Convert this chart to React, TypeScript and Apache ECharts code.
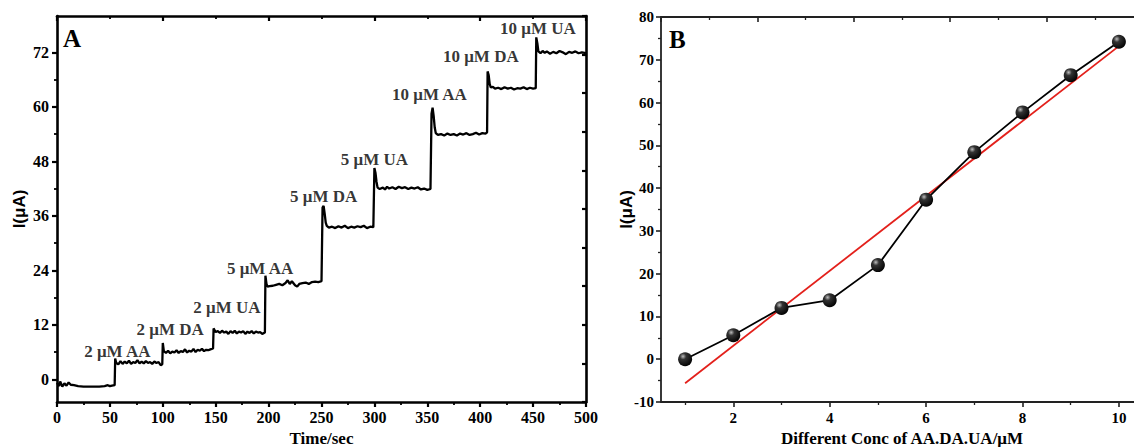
import React, { useEffect, useRef } from "react";
import * as echarts from "echarts";

// Panel A: amperometric trace (time in s, current in µA)
const traceTime = [
  0, 2, 3, 5, 7, 9, 11, 13, 16, 20, 25, 30, 35, 40, 45, 48, 50, 52, 54.5,
  55, 56, 58, 60, 62, 64, 66, 68, 70, 72, 74, 76, 78, 80, 82, 84, 86, 88, 90, 92, 94, 96, 98, 99.5,
  100, 101, 103, 105, 107, 109, 111, 113, 115, 117, 119, 121, 123, 125, 127, 129, 131, 133, 135, 137, 139, 141, 143, 145, 147.5,
  148, 149, 150, 152, 154, 156, 158, 160, 162, 164, 166, 168, 170, 172, 174, 176, 178, 180, 182, 184, 186, 188, 190, 192, 194, 196.5,
  197, 198, 199, 201, 204, 207, 210, 213, 216, 218, 220, 222, 225, 227, 229, 232, 235, 238, 241, 244, 247, 250,
  251, 252, 253, 254, 255, 257, 260, 263, 266, 269, 272, 275, 278, 281, 284, 287, 290, 293, 296, 299,
  300, 301, 302, 303, 305, 308, 310, 312, 314, 317, 320, 323, 326, 329, 332, 335, 338, 341, 344, 347, 350, 353,
  354, 355, 356, 357, 358, 360, 363, 366, 369, 372, 375, 378, 381, 384, 387, 390, 393, 396, 399, 402, 405, 406.5,
  407, 408, 409, 410, 412, 414, 417, 420, 423, 426, 429, 432, 435, 438, 441, 444, 447, 450, 452.5,
  453, 454, 455, 457, 459, 461, 463, 466, 469, 472, 475, 478, 481, 484, 487, 490, 493, 496, 500,
];
const traceCurrent = [
  -0.8, -1.5, -0.5, -1.6, -0.9, -1.4, -0.7, -1.2, -1.3, -1.5, -1.6, -1.6, -1.6, -1.6, -1.5, -1.3, -1.5, -1.4, -1.3,
  4.6, 3.6, 3.3, 4.0, 3.4, 3.9, 3.5, 4.1, 3.4, 3.8, 3.6, 4.2, 3.5, 3.9, 3.5, 4.0, 3.6, 3.8, 3.4, 3.9, 3.6, 3.8, 3.1, 3.3,
  8.0, 6.2, 5.8, 6.3, 5.7, 6.1, 5.9, 6.4, 5.8, 6.2, 6.0, 6.6, 5.9, 6.3, 6.1, 6.7, 6.0, 6.5, 6.3, 6.7, 6.2, 6.5, 6.4, 6.6, 6.8,
  11.2, 10.8, 10.4, 10.6, 10.2, 10.7, 10.3, 10.5, 10.0, 10.6, 10.2, 10.7, 10.1, 10.5, 10.3, 10.6, 10.0, 10.5, 10.2, 10.6, 10.1, 10.5, 10.3, 10.4, 10.0, 10.3,
  22.8, 21.0, 20.4, 20.5, 20.6, 20.8, 21.0, 20.7, 21.2, 21.8, 21.0, 21.6, 20.7, 20.4, 21.0, 21.2, 21.3, 21.0, 21.4, 21.5, 21.4, 21.6,
  37.8, 38.2, 36.5, 34.5, 33.8, 33.4, 33.6, 33.3, 33.7, 33.4, 33.8, 33.3, 33.6, 33.4, 33.7, 33.5, 33.8, 33.3, 33.6, 33.5,
  46.5, 45.5, 43.5, 42.2, 41.9, 42.2, 41.8, 42.4, 42.0, 42.3, 41.9, 42.4, 42.1, 42.3, 41.9, 42.2, 42.0, 42.3, 41.8, 42.0, 41.7, 41.9,
  58.5, 59.8, 58.0, 55.5, 54.2, 53.8, 54.0, 53.7, 54.1, 53.8, 54.0, 53.7, 54.1, 53.9, 54.2, 53.8, 54.0, 54.3, 53.9, 54.2, 54.1, 54.4,
  67.8, 67.0, 65.0, 64.3, 64.4, 64.0, 64.2, 63.9, 64.3, 64.0, 64.2, 63.8, 64.1, 64.0, 64.3, 63.9, 64.2, 64.0, 64.1,
  75.3, 74.0, 72.2, 71.8, 72.3, 71.9, 72.2, 71.7, 72.1, 71.8, 72.3, 72.0, 71.6, 72.1, 71.9, 72.2, 71.8, 72.0, 71.8,
];

const annLabels = ["2 μM AA", "2 μM DA", "2 μM UA", "5 μM AA", "5 μM DA", "5 μM UA", "10 μM AA", "10 μM DA", "10 μM UA"];
const annX = [57, 107, 160.6, 192, 252, 300, 352, 400.6, 454.6];
const annY = [6.2, 11, 15.9, 24.5, 40.2, 48.3, 62.7, 71, 77.3];

const aYLabels = [0, 12, 24, 36, 48, 60, 72];
const aYMinor = [6, 18, 30, 42, 54, 66];

// Panel B: calibration
const concX = [1, 2, 3, 4, 5, 6, 7, 8, 9, 10];
const currentB = [0, 5.6, 12, 13.8, 22, 37.3, 48.4, 57.7, 66.4, 74.2];
const fitX = [1, 10];
const fitY = [-5.6, 73.2];
const bXLabels = [2, 4, 6, 8, 10];
const bXMinor = [1, 3, 5, 7, 9];

const SERIF = "'Liberation Serif', 'Times New Roman', serif";
const SANS = "'Liberation Sans', Arial, sans-serif";

export default function App() {
  const ref = useRef<HTMLDivElement>(null);
  useEffect(() => {
    if (!ref.current) return;
    const chart = echarts.init(ref.current, null, { renderer: "svg" });
    const tickLabel = { fontFamily: SERIF, fontWeight: "bold", fontSize: 16, color: "#000" };
    const tickLabelB = { fontFamily: SERIF, fontWeight: "bold", fontSize: 15, color: "#000" };
    const lineA = { onZero: false, lineStyle: { color: "#000", width: 2.6 } };
    const lineB = { onZero: false, lineStyle: { color: "#222", width: 1.8 } };
    const noLine = { show: false, onZero: false };
    const sphere = {
      type: "radial",
      x: 0.35,
      y: 0.3,
      r: 0.75,
      colorStops: [
        { offset: 0, color: "#bdbdbd" },
        { offset: 0.3, color: "#333" },
        { offset: 1, color: "#000" },
      ],
    };
    const gridA = { left: 57, top: 16, width: 529, height: 386, containLabel: false, outerBoundsMode: "none" };
    const gridB = { left: 661, top: 17, width: 482, height: 385, containLabel: false, outerBoundsMode: "none" };
    chart.setOption({
      animation: false,
      backgroundColor: "#fff",
      grid: [gridA, gridB],
      xAxis: [
        {
          gridIndex: 0, type: "value", min: 0, max: 500, interval: 50, position: "bottom",
          axisLine: { show: true, ...lineA }, splitLine: { show: false },
          axisTick: { show: true, length: 5, lineStyle: { width: 2.2 } },
          minorTick: { show: true, splitNumber: 2, length: 3, lineStyle: { color: "#000", width: 1.8 } },
          axisLabel: { ...tickLabel, margin: 7 },
          name: "Time/sec", nameLocation: "middle", nameGap: 27,
          nameTextStyle: { fontFamily: SERIF, fontWeight: "bold", fontSize: 17, color: "#000" },
        },
        {
          gridIndex: 0, type: "value", min: 0, max: 500, interval: 100, position: "top",
          axisLine: { show: true, ...lineA }, splitLine: { show: false },
          axisTick: { show: true, inside: true, length: 5, lineStyle: { width: 2.2 } },
          minorTick: { show: true, splitNumber: 2, length: 3, lineStyle: { color: "#000", width: 1.8 } },
          axisLabel: { show: false },
        },
        {
          gridIndex: 1, type: "value", min: 0.5, max: 10.5, position: "bottom",
          axisLine: { show: true, ...lineB }, splitLine: { show: false },
          axisTick: { show: true, length: 5, customValues: bXLabels, lineStyle: { width: 1.6 } },
          axisLabel: { ...tickLabelB, margin: 8, customValues: bXLabels },
          name: "Different Conc of AA.DA.UA/μM", nameLocation: "middle", nameGap: 27,
          nameTextStyle: { fontFamily: SERIF, fontWeight: "bold", fontSize: 17, color: "#000" },
        },
        {
          gridIndex: 1, type: "value", min: 0.5, max: 10.5, position: "bottom",
          axisLine: noLine, splitLine: { show: false },
          axisTick: { show: true, length: 3, customValues: bXMinor, lineStyle: { color: "#222", width: 1.3 } },
          axisLabel: { show: false },
        },
        {
          gridIndex: 1, type: "value", min: 0, max: 10, interval: 2, position: "top",
          axisLine: { show: true, ...lineB }, splitLine: { show: false },
          axisTick: { show: true, inside: true, length: 5, lineStyle: { width: 1.6 } },
          minorTick: { show: true, splitNumber: 2, length: 3, lineStyle: { color: "#222", width: 1.3 } },
          axisLabel: { show: false },
        },
      ],
      yAxis: [
        {
          gridIndex: 0, type: "value", min: -5, max: 80, position: "left",
          axisLine: { show: true, ...lineA }, splitLine: { show: false },
          axisTick: { show: true, length: 5, customValues: aYLabels, lineStyle: { width: 2.2 } },
          axisLabel: { ...tickLabel, margin: 8, customValues: aYLabels },
          name: "I(μA)", nameLocation: "middle", nameGap: 29, nameMoveOverlap: false,
          nameTextStyle: { fontFamily: SANS, fontWeight: "bold", fontSize: 17, color: "#000" },
        },
        {
          gridIndex: 0, type: "value", min: -5, max: 80, position: "left",
          axisLine: noLine, splitLine: { show: false },
          axisTick: { show: true, length: 3, customValues: aYMinor, lineStyle: { color: "#000", width: 1.8 } },
          axisLabel: { show: false },
        },
        {
          gridIndex: 0, type: "value", min: 0, max: 10, interval: 1, position: "right",
          axisLine: { show: true, ...lineA }, splitLine: { show: false },
          axisTick: { show: true, inside: true, length: 4, lineStyle: { width: 2.2 } },
          axisLabel: { show: false },
        },
        {
          gridIndex: 1, type: "value", min: -10, max: 80, interval: 10, position: "left",
          axisLine: { show: true, ...lineB }, splitLine: { show: false },
          axisTick: { show: true, length: 5, lineStyle: { width: 1.6 } },
          minorTick: { show: true, splitNumber: 2, length: 3, lineStyle: { color: "#222", width: 1.3 } },
          axisLabel: { ...tickLabelB, margin: 7 },
          name: "I(μA)", nameLocation: "middle", nameGap: 26, nameMoveOverlap: false,
          nameTextStyle: { fontFamily: SANS, fontWeight: "bold", fontSize: 17, color: "#000" },
        },
      ],
      graphic: [
        { type: "text", left: 63, top: 26, style: { text: "A", fontFamily: SERIF, fontWeight: "bold", fontSize: 25, fill: "#000" } },
        { type: "text", left: 669, top: 27, style: { text: "B", fontFamily: SERIF, fontWeight: "bold", fontSize: 25, fill: "#000" } },
      ],
      series: [
        {
          type: "line", xAxisIndex: 0, yAxisIndex: 0, showSymbol: false,
          data: traceTime.map((t, i) => [t, traceCurrent[i]]),
          lineStyle: { color: "#000", width: 2.3 },
        },
        {
          type: "scatter", xAxisIndex: 0, yAxisIndex: 0, symbolSize: 0,
          data: annLabels.map((n, i) => ({ name: n, value: [annX[i], annY[i]] })),
          label: {
            show: true, formatter: (p: any) => p.name, position: [0, 0],
            align: "center", verticalAlign: "middle",
            fontFamily: SERIF, fontWeight: "bold", fontSize: 17, color: "#000",
          },
        },
        {
          type: "line", xAxisIndex: 2, yAxisIndex: 3, showSymbol: false,
          data: fitX.map((x, i) => [x, fitY[i]]),
          lineStyle: { color: "#e3201b", width: 1.8 },
        },
        {
          type: "line", xAxisIndex: 2, yAxisIndex: 3, symbol: "circle", symbolSize: 14, showSymbol: true,
          data: concX.map((x, i) => [x, currentB[i]]),
          lineStyle: { color: "#000", width: 1.8 },
          itemStyle: { color: sphere, borderWidth: 0 },
        },
      ],
    });
    return () => chart.dispose();
  }, []);
  return <div ref={ref} style={{ position: "fixed", left: 0, top: 0, width: 1134, height: 447, background: "#fff" }} />;
}
